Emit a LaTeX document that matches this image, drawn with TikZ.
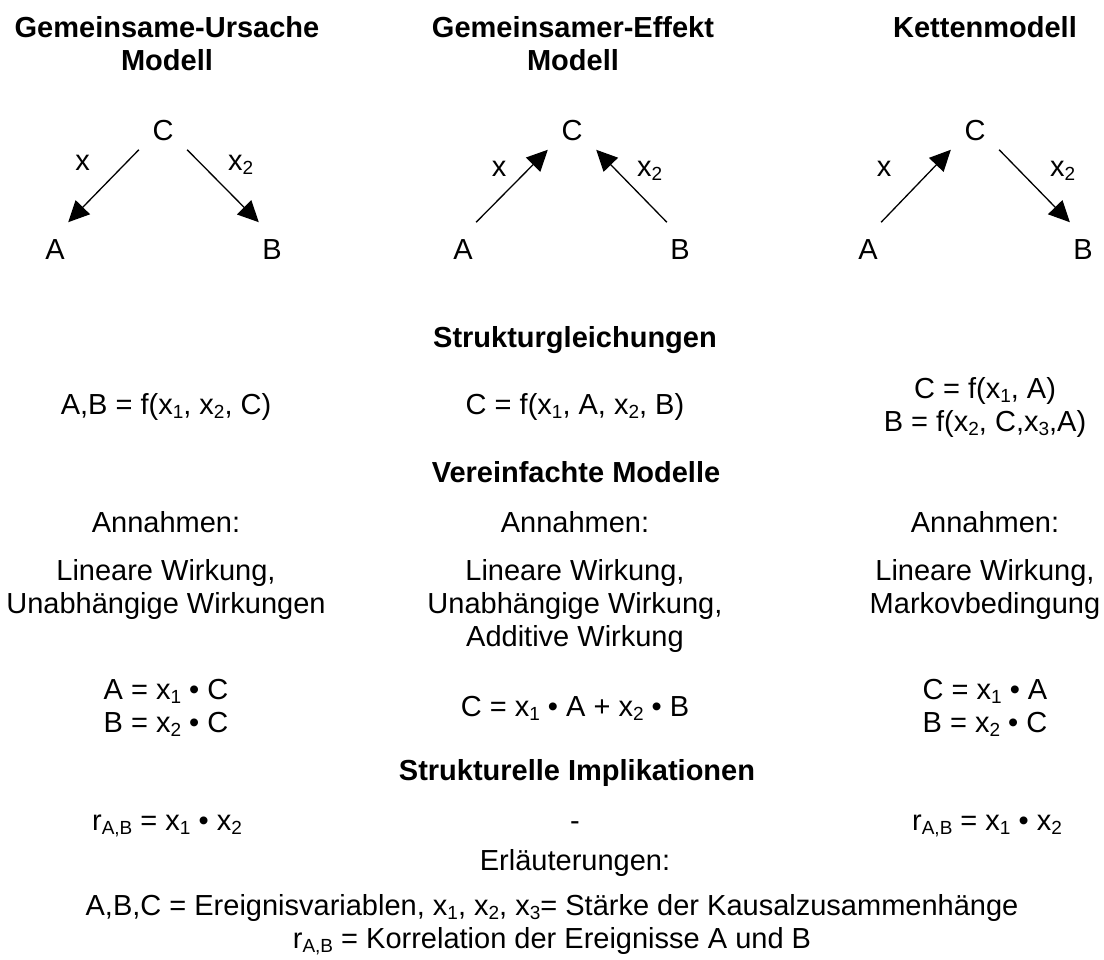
\documentclass[tikz,border=0pt]{standalone}
\usepackage{fontspec}
\setmainfont{Liberation Sans}
\usetikzlibrary{arrows.meta}

\newcommand\lo[1]{\raisebox{-4pt}{\fontsize{19}{19}\selectfont #1}}

\begin{document}
\begin{tikzpicture}[x=1pt,y=-1pt,
  txt/.style={inner sep=0pt,anchor=north,align=center,font=\fontsize{29}{33}\selectfont},
  head/.style={txt,font=\fontsize{29}{33}\selectfont\bfseries},
  topvar/.style={font=\fontsize{29}{33}\selectfont,inner xsep=13.5pt,inner ysep=8.3pt},
  botvar/.style={font=\fontsize{29}{33}\selectfont,inner xsep=3.3pt,inner ysep=17.6pt},
  lbl/.style={font=\fontsize{29}{33}\selectfont,inner sep=0pt},
  arr/.style={-{Triangle[length=21pt,width=20pt]},line width=1.3pt}]

  \useasboundingbox (0,0) rectangle (1104,960);

  % three models
  \node[head] (t1) at (167,16.5) {Gemeinsame-Ursache\\Modell};
  \node[head] (t2) at (573,16.5) {Gemeinsamer-Effekt\\Modell};
  \node[head] (t3) at (985,16.5) {Kettenmodell};

  \node[topvar] (c1) at (163,131) {C};
  \node[botvar] (a1) at (55,250)  {A};
  \node[botvar] (b1) at (272,250) {B};
  \draw[arr] (c1.south west)--(a1.north east);
  \draw[arr] (c1.south east)--(b1.north west);
  \node[lbl,anchor=base]      (xa1) at (82.5,171) {x};
  \node[lbl,anchor=base west] (xb1) at (228,171)  {x\lo{2}};

  \node[topvar] (c2) at (572,131) {C};
  \node[botvar] (a2) at (463,250) {A};
  \node[botvar] (b2) at (680,250) {B};
  \draw[arr] (a2.north east)--(c2.south west);
  \draw[arr] (b2.north west)--(c2.south east);
  \node[lbl,anchor=base]      (xa2) at (499,177) {x};
  \node[lbl,anchor=base west] (xb2) at (637,177) {x\lo{2}};

  \node[topvar] (c3) at (975,131)  {C};
  \node[botvar] (a3) at (868,250)  {A};
  \node[botvar] (b3) at (1083,250) {B};
  \draw[arr] (a3.north east)--(c3.south west);
  \draw[arr] (c3.south east)--(b3.north west);
  \node[lbl,anchor=base]      (xa3) at (884,177)  {x};
  \node[lbl,anchor=base west] (xb3) at (1050,177) {x\lo{2}};

  % equations
  \node[head] (h1) at (575,326.5) {Strukturgleichungen};
  \node[txt] (s1) at (166,393.5) {A,B = f(x\lo{1}, x\lo{2}, C)};
  \node[txt] (s2) at (575,393.5) {C = f(x\lo{1}, A, x\lo{2}, B)};
  \node[txt] (s3) at (985,377.5) {C = f(x\lo{1}, A)\\B = f(x\lo{2}, C,x\lo{3},A)};

  \node[head] (h2) at (576,461.5) {Vereinfachte Modelle};
  \node[txt] (n1) at (166,511.5) {Annahmen:};
  \node[txt] (n2) at (575,511.5) {Annahmen:};
  \node[txt] (n3) at (985,511.5) {Annahmen:};
  \node[txt] (w1) at (166,559.5) {Lineare Wirkung,\\Unabhängige Wirkungen};
  \node[txt] (w2) at (575,559.5) {Lineare Wirkung,\\Unabhängige Wirkung,\\Additive Wirkung};
  \node[txt] (w3) at (985,559.5) {Lineare Wirkung,\\Markovbedingung};
  \node[txt] (e1) at (166,679.5) {A = x\lo{1} • C\\B = x\lo{2} • C};
  \node[txt] (e2) at (575,696.5) {C = x\lo{1} • A + x\lo{2} • B};
  \node[txt] (e3) at (985,679.5) {C = x\lo{1} • A\\B = x\lo{2} • C};

  \node[head] (h3) at (577,759.5) {Strukturelle Implikationen};
  \node[txt,anchor=base] (r1) at (167,830) {r\lo{A,B} = x\lo{1} • x\lo{2}};
  \node[txt,anchor=base] (r2) at (575,830) {-};
  \node[txt,anchor=base] (r3) at (987,830) {r\lo{A,B} = x\lo{1} • x\lo{2}};

  % legend
  \node[txt] (l0) at (575,849) {Erläuterungen:};
  \node[txt] (l1) at (552,894.5) {A,B,C = Ereignisvariablen, x\lo{1}, x\lo{2}, x\lo{3}= Stärke der Kausalzusammenhänge\\r\lo{A,B} = Korrelation der Ereignisse A und B};
\end{tikzpicture}
\end{document}
